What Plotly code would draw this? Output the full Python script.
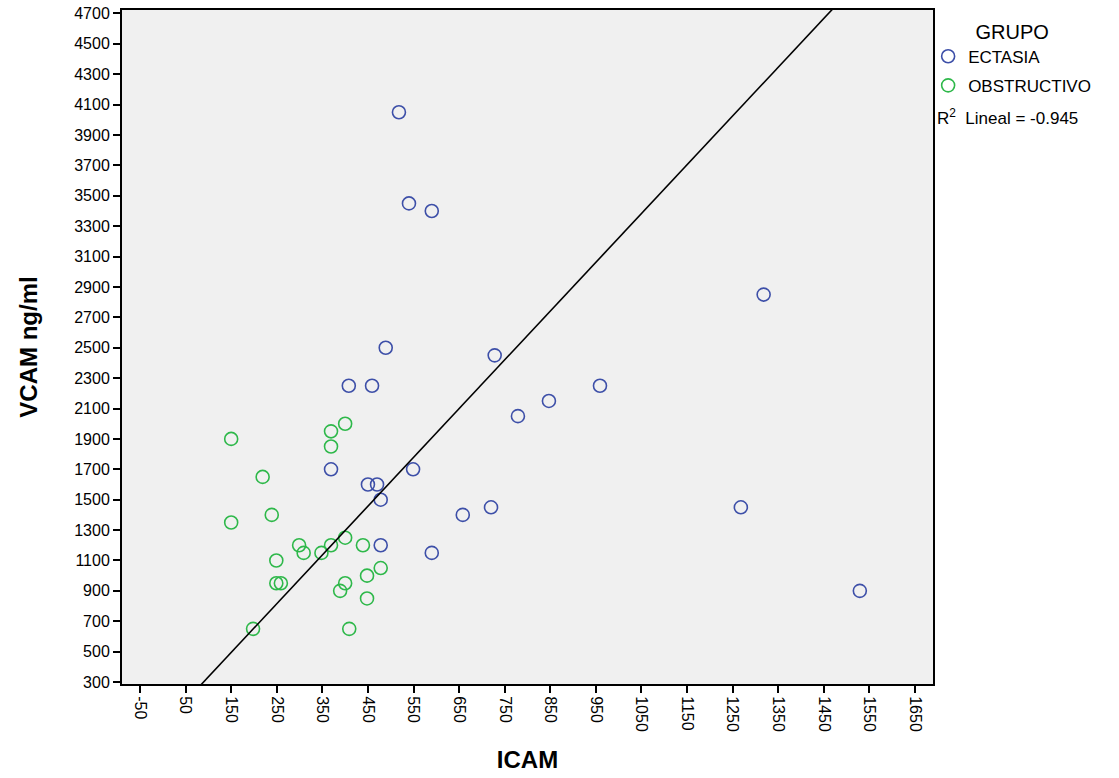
import plotly.graph_objects as go

# ECTASIA group (ICAM, VCAM)
ect_icam = [518, 540, 590, 489, 728, 1318, 408, 459, 959, 847, 779, 369, 549, 450, 470, 478, 658, 720, 1268, 478, 590, 1529]
ect_vcam = [4050, 3450, 3400, 2500, 2450, 2850, 2250, 2250, 2250, 2150, 2050, 1700, 1700, 1600, 1600, 1500, 1400, 1450, 1450, 1200, 1150, 900]

# OBSTRUCTIVO group (ICAM, VCAM)
obs_icam = [150, 400, 369, 369, 219, 239, 150, 400, 299, 369, 439, 309, 348, 249, 478, 448, 400, 249, 259, 389, 448, 198, 409]
obs_vcam = [1900, 2000, 1950, 1850, 1650, 1400, 1350, 1250, 1200, 1200, 1200, 1150, 1150, 1100, 1050, 1000, 950, 950, 950, 900, 850, 650, 650]

# Fit line
fit_intercept = 13
fit_slope = 3.21
fit_x = [-90, 1690]
fit_y = [fit_intercept + fit_slope * v for v in fit_x]

x_ticks = list(range(-50, 1651, 100))
y_ticks = list(range(300, 4701, 200))

FONT = "Liberation Sans, Arial, sans-serif"

fig = go.Figure()
fig.add_trace(go.Scatter(
    x=ect_icam, y=ect_vcam, mode="markers", name="ECTASIA", legendgroup="a",
    marker=dict(symbol="circle-open", size=13, color="#3D4FA8", line=dict(width=1.6)),
))
fig.add_trace(go.Scatter(
    x=obs_icam, y=obs_vcam, mode="markers", name="OBSTRUCTIVO", legendgroup="b",
    marker=dict(symbol="circle-open", size=13, color="#2EB84A", line=dict(width=1.6)),
))
fig.add_trace(go.Scatter(
    x=fit_x, y=fit_y, mode="lines", showlegend=False,
    line=dict(color="black", width=1.6), hoverinfo="skip",
))

fig.update_layout(
    width=1119, height=778,
    margin=dict(l=122, r=186, t=10, b=94, autoexpand=False),
    paper_bgcolor="white", plot_bgcolor="#F0F0F0",
    font=dict(family=FONT, size=16, color="black"),
    legend=dict(
        x=0.994, y=0.996, xanchor="left", yanchor="top",
        title=dict(text="GRUPO", side="top center", font=dict(size=20)),
        font=dict(size=17), itemwidth=30, tracegroupgap=4,
        bgcolor="rgba(0,0,0,0)",
    ),
    showlegend=True,
)
fig.update_xaxes(
    range=[-89.5, 1689.5], tickvals=x_ticks, ticktext=[str(v) for v in x_ticks],
    tickangle=90, ticks="outside", ticklen=7, tickwidth=2, tickcolor="black",
    showline=True, linecolor="black", linewidth=2, mirror=True,
    showgrid=False, zeroline=False, automargin=False, ticklabeloverflow="allow",
    title=dict(text="<b>ICAM</b>", font=dict(size=24), standoff=20),
    tickfont=dict(size=16),
)
fig.update_yaxes(
    range=[287, 4723], tickvals=y_ticks, ticktext=[str(v) for v in y_ticks],
    ticks="outside", ticklen=7, tickwidth=2, tickcolor="black",
    showline=True, linecolor="black", linewidth=2, mirror=True,
    showgrid=False, zeroline=False, automargin=False, ticklabeloverflow="allow",
    title=dict(text="<b>VCAM ng/ml</b>", font=dict(size=24), standoff=30),
    tickfont=dict(size=16),
)
fig.add_annotation(
    xref="paper", yref="paper", x=1.002, y=0.841, xanchor="left", yanchor="middle",
    text="R<sup>2</sup>  Lineal = -0.945", showarrow=False, font=dict(size=17),
)

fig.write_html(
    "out.html",
    config={"displayModeBar": False},
    post_script="document.body.style.margin='0';document.body.style.overflow='hidden';",
)
